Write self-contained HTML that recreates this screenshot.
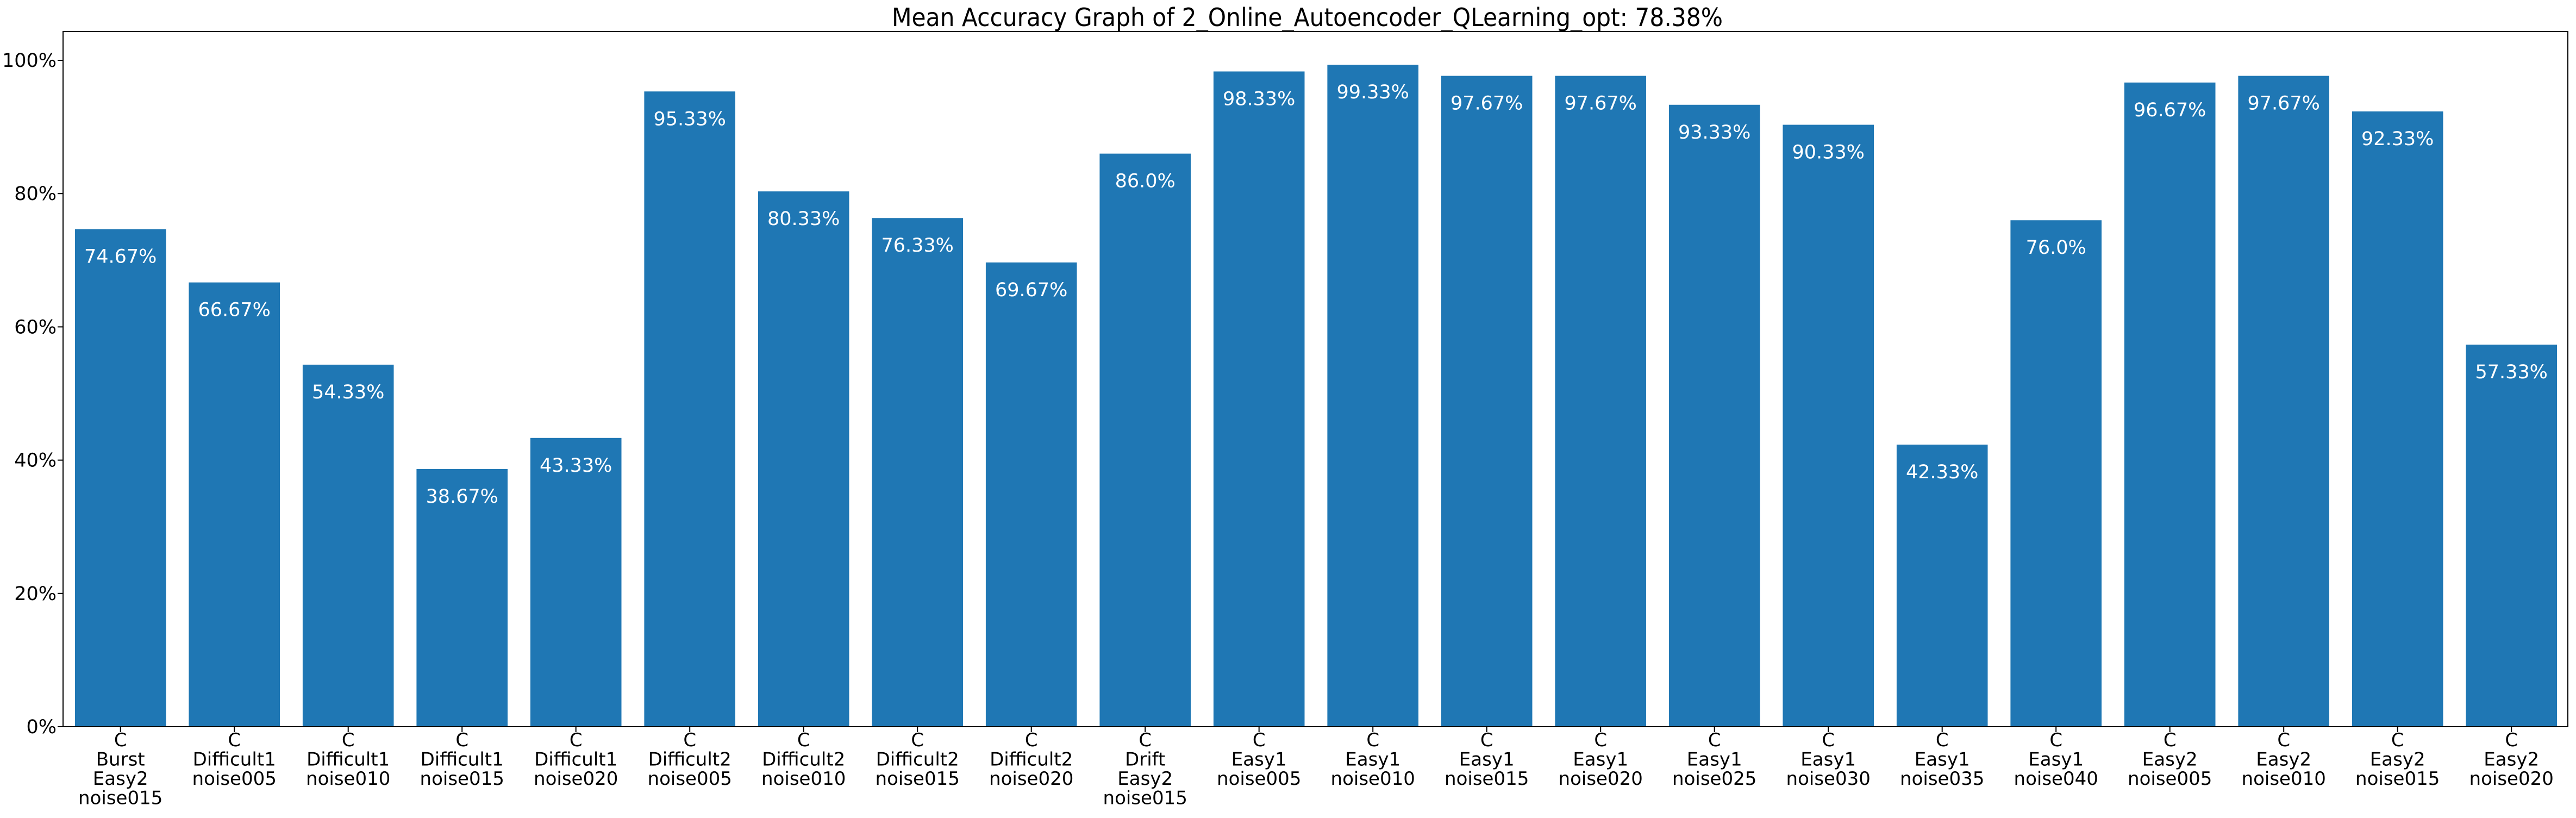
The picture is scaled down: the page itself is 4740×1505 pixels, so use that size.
<!DOCTYPE html>
<html><head><meta charset="utf-8"><style>
html,body{margin:0;padding:0;background:#fff;}
svg text{font-family:"DejaVu Sans","Liberation Sans",sans-serif;}
</style></head><body>
<svg id="chart" width="4740" height="1500" xmlns="http://www.w3.org/2000/svg">
<rect x="0" y="0" width="4740" height="1500" fill="#fff"/>
<text x="1641" y="48" font-size="46" textLength="1529" lengthAdjust="spacingAndGlyphs">Mean Accuracy Graph of 2_Online_Autoencoder_QLearning_opt: 78.38%</text>
<g id="bars"></g>
<g id="yticks"></g>
<g id="xticks"></g>
<rect x="116" y="58" width="4609" height="1279" fill="none" stroke="#000" stroke-width="2"/>
</svg>
<script>
const categories = [
 ["C","Burst","Easy2","noise015"],["C","Difficult1","noise005"],["C","Difficult1","noise010"],["C","Difficult1","noise015"],["C","Difficult1","noise020"],
 ["C","Difficult2","noise005"],["C","Difficult2","noise010"],["C","Difficult2","noise015"],["C","Difficult2","noise020"],["C","Drift","Easy2","noise015"],
 ["C","Easy1","noise005"],["C","Easy1","noise010"],["C","Easy1","noise015"],["C","Easy1","noise020"],["C","Easy1","noise025"],["C","Easy1","noise030"],
 ["C","Easy1","noise035"],["C","Easy1","noise040"],["C","Easy2","noise005"],["C","Easy2","noise010"],["C","Easy2","noise015"],["C","Easy2","noise020"]];
const values = [74.67,66.67,54.33,38.67,43.33,95.33,80.33,76.33,69.67,86.0,98.33,99.33,97.67,97.67,93.33,90.33,42.33,76.0,96.67,97.67,92.33,57.33];
const valueLabels = ["74.67%","66.67%","54.33%","38.67%","43.33%","95.33%","80.33%","76.33%","69.67%","86.0%","98.33%","99.33%","97.67%","97.67%","93.33%","90.33%","42.33%","76.0%","96.67%","97.67%","92.33%","57.33%"];
const yTicks = [0,20,40,60,80,100];
const yTickLabels = ["0%","20%","40%","60%","80%","100%"];

const NS="http://www.w3.org/2000/svg";
const y0=1337, yPerUnit=12.26;
const xc0=221.7, step=209.5, bw=167.6;
function yScale(v){return y0 - v*yPerUnit;}
function xScale(i){return xc0 + i*step;}
function mk(tag,attrs,parent){const e=document.createElementNS(NS,tag);for(const k in attrs)e.setAttribute(k,attrs[k]);parent.appendChild(e);return e;}

const gb=document.getElementById('bars');
values.forEach((v,i)=>{
  const r=mk('rect',{x:xScale(i)-bw/2,y:yScale(v),width:bw,height:y0-yScale(v),fill:'#1f77b4'},gb);
  
  
  const t=mk('text',{x:xScale(i),y:yScale(v)+62,'font-size':35,fill:'#fff','text-anchor':'middle'},gb);
  t.textContent=valueLabels[i];
  
  
});
const gy=document.getElementById('yticks');
yTicks.forEach((v,i)=>{
  const l=mk('line',{x1:106,x2:116,y1:yScale(v),y2:yScale(v),stroke:'#000','stroke-width':2},gy);
  
  
  const t=mk('text',{x:104,y:yScale(v)+12,'font-size':35,'text-anchor':'end'},gy);
  t.textContent=yTickLabels[i];
  
  
});
const gx=document.getElementById('xticks');
categories.forEach((c,i)=>{
  const l=mk('line',{x1:xScale(i),x2:xScale(i),y1:y0,y2:y0+10,stroke:'#000','stroke-width':2},gx);
  
  
  const t=mk('text',{x:xScale(i),y:1373,'font-size':34,'text-anchor':'middle'},gx);
  
  
  c.forEach((line,j)=>{const s=mk('tspan',{x:xScale(i),y:1373+j*35.5},t);s.textContent=line;});
});
</script>
</body></html>
